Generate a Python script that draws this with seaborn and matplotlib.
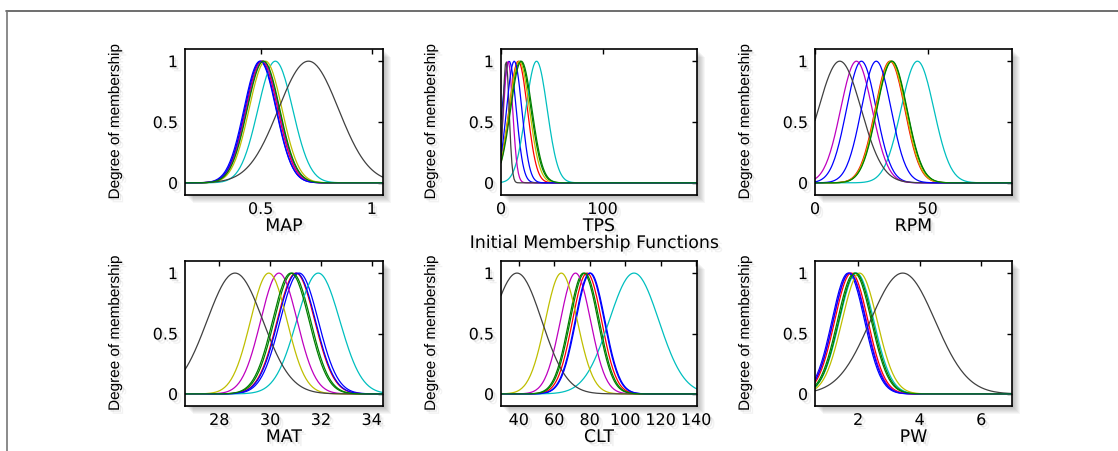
import numpy as np
import pandas as pd
import matplotlib
matplotlib.use("Agg")
import matplotlib.pyplot as plt
import matplotlib.patheffects as pe
from matplotlib.patches import Rectangle
from matplotlib.lines import Line2D
import seaborn as sns

# MATLAB-style colour order: b g r c m y k b g
mf_colors = ['#0000ff', '#008000', '#ff0000', '#00bfbf', '#bf00bf',
             '#bfbf00', '#404040', '#0000ff', '#008000']
mf_names = ['mf1', 'mf2', 'mf3', 'mf4', 'mf5', 'mf6', 'mf7', 'mf8', 'mf9']

# gaussian membership parameters (centre, sigma)
map_range = (0.16, 1.05)
map_centers = [0.497, 0.51, 0.505, 0.566, 0.508, 0.522, 0.715, 0.50, 0.513]
map_sigmas = [0.072, 0.073, 0.072, 0.078, 0.072, 0.074, 0.135, 0.071, 0.073]

tps_range = (0, 193)
tps_centers = [8, 19, 17, 35, 7, 18, 5, 13, 20]
tps_sigmas = [7, 10.5, 9, 10.5, 4.5, 10, 3, 7.5, 10.5]

rpm_range = (0, 87.5)
rpm_centers = [20.6, 34.0, 33.3, 45.5, 18.4, 33.6, 11.0, 27.2, 34.2]
rpm_sigmas = [6.6, 6.7, 6.6, 7.3, 7.0, 6.6, 9.5, 6.6, 6.7]

mat_range = (26.65, 34.45)
mat_centers = [31.15, 30.88, 31.02, 31.9, 30.35, 29.95, 28.62, 31.05, 30.82]
mat_sigmas = [0.75, 0.72, 0.74, 0.85, 0.72, 0.72, 1.1, 0.74, 0.72]

clt_range = (30, 140.5)
clt_centers = [80.4, 76.5, 78.5, 105, 72, 64, 39, 80, 77.2]
clt_sigmas = [8.2, 8.2, 8.2, 14, 8.5, 9, 14, 8.2, 8.2]

pw_range = (0.6, 7.0)
pw_centers = [1.68, 1.88, 1.78, 1.95, 1.73, 2.05, 3.45, 1.72, 1.92]
pw_sigmas = [0.53, 0.55, 0.54, 0.56, 0.54, 0.57, 1.05, 0.53, 0.55]

panels = [
    ("MAP", map_range, map_centers, map_sigmas, [0.5, 1], ["0.5", "1"]),
    ("TPS", tps_range, tps_centers, tps_sigmas, [0, 100], ["0", "100"]),
    ("RPM", rpm_range, rpm_centers, rpm_sigmas, [0, 50], ["0", "50"]),
    ("MAT", mat_range, mat_centers, mat_sigmas, [28, 30, 32, 34], ["28", "30", "32", "34"]),
    ("CLT", clt_range, clt_centers, clt_sigmas, [40, 60, 80, 100, 120, 140],
     ["40", "60", "80", "100", "120", "140"]),
    ("PW", pw_range, pw_centers, pw_sigmas, [2, 4, 6], ["2", "4", "6"]),
]

W, H = 1118, 451
# axes boxes in pixels: left, top, right, bottom
boxes = [(185, 49, 383, 195), (501, 49, 697, 195), (815, 49, 1012, 195),
         (185, 261, 383, 406), (501, 261, 697, 406), (815, 261, 1012, 406)]

sns.set_style("white")
plt.rcParams['font.family'] = ['DejaVu Sans']
plt.rcParams['text.color'] = 'black'
plt.rcParams['axes.labelcolor'] = 'black'

shadow = [pe.SimplePatchShadow(offset=(1.5, -1.5), shadow_rgbFace='gray', alpha=0.18),
          pe.SimplePatchShadow(offset=(3, -3), shadow_rgbFace='gray', alpha=0.1),
          pe.Normal()]

fig = plt.figure(figsize=(W / 100, H / 100), dpi=100)
fig.patch.set_facecolor('white')

# outer frame of the screenshot
fig.add_artist(Line2D([6 / W, 1], [1 - 11 / H, 1 - 11 / H], transform=fig.transFigure,
                      color='#555555', lw=1.2))
fig.add_artist(Line2D([7 / W, 7 / W], [1 - 11 / H, 0], transform=fig.transFigure,
                      color='#777777', lw=1.2))

for (name, rng, centers, sigmas, ticks, labels), (l, t, r, b) in zip(panels, boxes):
    # soft drop shadow behind each axes
    for k in range(1, 9):
        fig.patches.append(Rectangle(((l + k) / W, 1 - (b + k) / H), (r - l) / W, (b - t) / H,
                                     transform=fig.transFigure, facecolor='black',
                                     edgecolor='none', alpha=0.035, zorder=-1))
    ax = fig.add_axes([l / W, 1 - b / H, (r - l) / W, (b - t) / H])
    ax.set_zorder(3)
    ax.set_facecolor('white')
    x = np.linspace(rng[0], rng[1], 181)
    frames = []
    for nm, c, s in zip(mf_names, centers, sigmas):
        frames.append(pd.DataFrame({'x': x, 'mu': np.exp(-(x - c) ** 2 / (2 * s ** 2)), 'mf': nm}))
    df = pd.concat(frames, ignore_index=True)
    sns.lineplot(data=df, x='x', y='mu', hue='mf', palette=mf_colors, legend=False,
                 estimator=None, errorbar=None, sort=False, lw=0.9, ax=ax)
    ax.set_xlim(rng)
    ax.set_ylim(-0.1, 1.1)
    ax.set_xticks(ticks)
    ax.set_xticklabels(labels)
    ax.set_yticks([0, 0.5, 1])
    ax.set_yticklabels(["0", "0.5", "1"])
    ax.tick_params(direction='in', top=True, right=True, length=3.5, width=1,
                   labelsize=11.5, pad=5, colors='black')
    for sp in ax.spines.values():
        sp.set_color('black')
        sp.set_linewidth(1.2)
    ax.set_xlabel(name, fontsize=12.5, color='black', path_effects=shadow)
    ax.xaxis.set_label_coords(0.5, -22 / (b - t))
    ax.set_ylabel("Degree of membership", fontsize=11, color='black',
                  family=['Liberation Sans', 'DejaVu Sans'], path_effects=shadow)
    ax.yaxis.set_label_coords(-63 / (r - l), 0.5)
    for lab in ax.get_xticklabels() + ax.get_yticklabels():
        lab.set_path_effects(shadow)

fig.text(595 / W, 1 - 243 / H, "Initial Membership Functions", ha='center', va='center',
         fontsize=12.5, color='black', path_effects=shadow)

fig.savefig("out.png", dpi=100)
plt.close(fig)
